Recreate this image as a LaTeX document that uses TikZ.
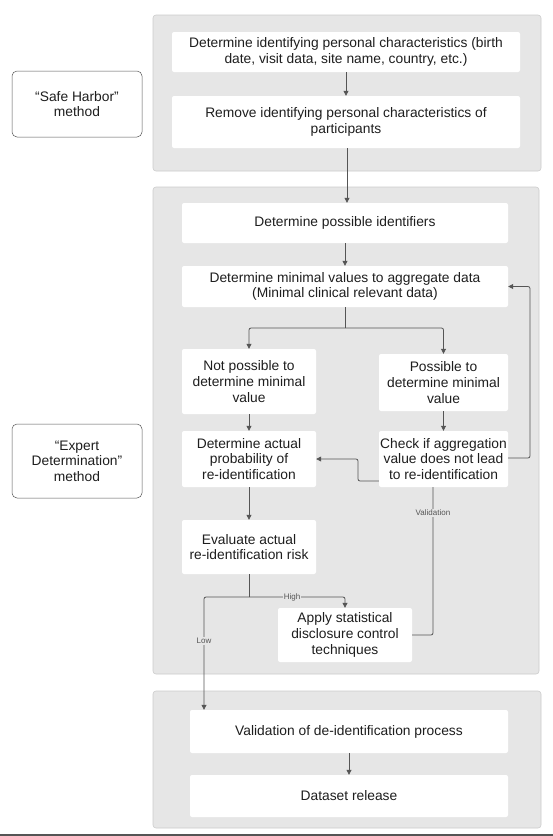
\documentclass[tikz,border=0pt]{standalone}
\usepackage{fontspec}
\setmainfont{Liberation Sans}
\usetikzlibrary{arrows.meta,calc}
\definecolor{panelfill}{HTML}{E6E6E6}
\definecolor{paneldraw}{HTML}{CCCCCC}
\definecolor{linec}{HTML}{555555}
\definecolor{txt}{HTML}{1E1E1E}
\tikzset{
  panel/.style={fill=panelfill,draw=paneldraw,line width=0.6pt,rounded corners=3pt},
  wbox/.style={fill=white,draw=none,rounded corners=2pt,align=center,text=txt,
    font=\fontsize{13.8}{15.6}\selectfont,inner sep=0pt},
  mbox/.style={fill=white,draw=linec,line width=0.5pt,rounded corners=5pt,align=center,text=txt,
    font=\fontsize{13.8}{15.6}\selectfont,inner sep=0pt},
  conn/.style={draw=linec,line width=0.8pt,rounded corners=2pt},
  arr/.style={conn,-{Triangle[length=5pt,width=5pt]}},
  lab/.style={font=\fontsize{8}{9}\selectfont,text=linec,fill=panelfill,inner sep=1pt},
  labw/.style={font=\fontsize{8}{9}\selectfont,text=linec,fill=white,inner sep=1pt}
}
\begin{document}
\begin{tikzpicture}[x=1pt,y=-1pt]
\useasboundingbox (0,0) rectangle (553,836);
\fill[white] (0,0) rectangle (553,836);
% panels
\draw[panel] (153,15) rectangle (541,171);
\draw[panel] (153,187) rectangle (539,674);
\draw[panel] (153,691) rectangle (541,828);
% method boxes
\node[mbox,minimum width=130pt,minimum height=66pt] (sh) at (77,104) {``Safe Harbor''\\method};
\node[mbox,minimum width=130pt,minimum height=74pt] (ed) at (77,461) {``Expert\\Determination''\\method};
% panel 1
\node[wbox,minimum width=348pt,minimum height=40pt] (b1) at (346,52) {Determine identifying personal characteristics (birth\\date, visit data, site name, country, etc.)};
\node[wbox,minimum width=348pt,minimum height=52pt] (b2) at (346,122) {Remove identifying personal characteristics of\\participants};
% panel 2
\node[wbox,minimum width=326pt,minimum height=40pt] (ident) at (345,223) {Determine possible identifiers};
\node[wbox,minimum width=326pt,minimum height=41pt] (minv) at (345,286.5) {Determine minimal values to aggregate data\\(Minimal clinical relevant data)};
\node[wbox,minimum width=134pt,minimum height=65pt] (notp) at (249,381.5) {Not possible to\\determine minimal\\value};
\node[wbox,minimum width=129pt,minimum height=57pt] (poss) at (443.5,382.5) {Possible to\\determine minimal\\value};
\node[wbox,minimum width=134pt,minimum height=56pt] (prob) at (249,459) {Determine actual\\probability of\\re-identification};
\node[wbox,minimum width=129pt,minimum height=56pt] (check) at (443.5,459) {Check if aggregation\\value does not lead\\to re-identification};
\node[wbox,minimum width=134pt,minimum height=54pt] (eval) at (249,547) {Evaluate actual\\re-identification risk};
\node[wbox,minimum width=134pt,minimum height=54pt] (apply) at (345,635) {Apply statistical\\disclosure control\\techniques};
% panel 3
\node[wbox,minimum width=318pt,minimum height=43pt] (valid) at (349,731.5) {Validation of de-identification process};
\node[wbox,minimum width=318pt,minimum height=42pt] (rel) at (349,796) {Dataset release};
% coordinates
\coordinate (j1) at (345,328);
\coordinate (j2) at (249,597);
\coordinate (fb) at (530,458);
\coordinate (bk) at (358,481);
\coordinate (vc) at (433,635);
\coordinate (lowx) at (204,597);
% connectors
\draw[arr] (b1) -- (b2);
\draw[arr] (b2.south -| 347,0) -- (ident.north -| 347,0);
\draw[arr] (ident) -- (minv);
\draw[conn] (minv.south) -- (j1);
\draw[arr] (j1) -| (notp.north);
\draw[arr] (j1) -| (poss.north);
\draw[arr] (notp) -- (prob);
\draw[arr] (poss) -- (check);
\draw[arr] (prob) -- (eval);
\draw[arr] (check.east |- fb) -- (fb) |- (minv.east);
\draw[arr] (check.west |- bk) -- (bk) |- (prob.east);
\draw[conn] (check.south -| vc) -- (vc) -- (apply.east |- vc);
\node[lab] at (433,513) {Validation};
\draw[conn] (eval.south) -- (j2);
\draw[arr] (j2) -| (apply.north);
\node[lab] at (292,597) {High};
\draw[arr] (j2) -- (lowx) -- (valid.north -| lowx);
\node[lab] at (204,641) {Low};
\draw[arr] (valid) -- (rel);
% bottom rule
\draw[linec,line width=2pt] (0,835) -- (553,835);
\end{tikzpicture}
\end{document}
